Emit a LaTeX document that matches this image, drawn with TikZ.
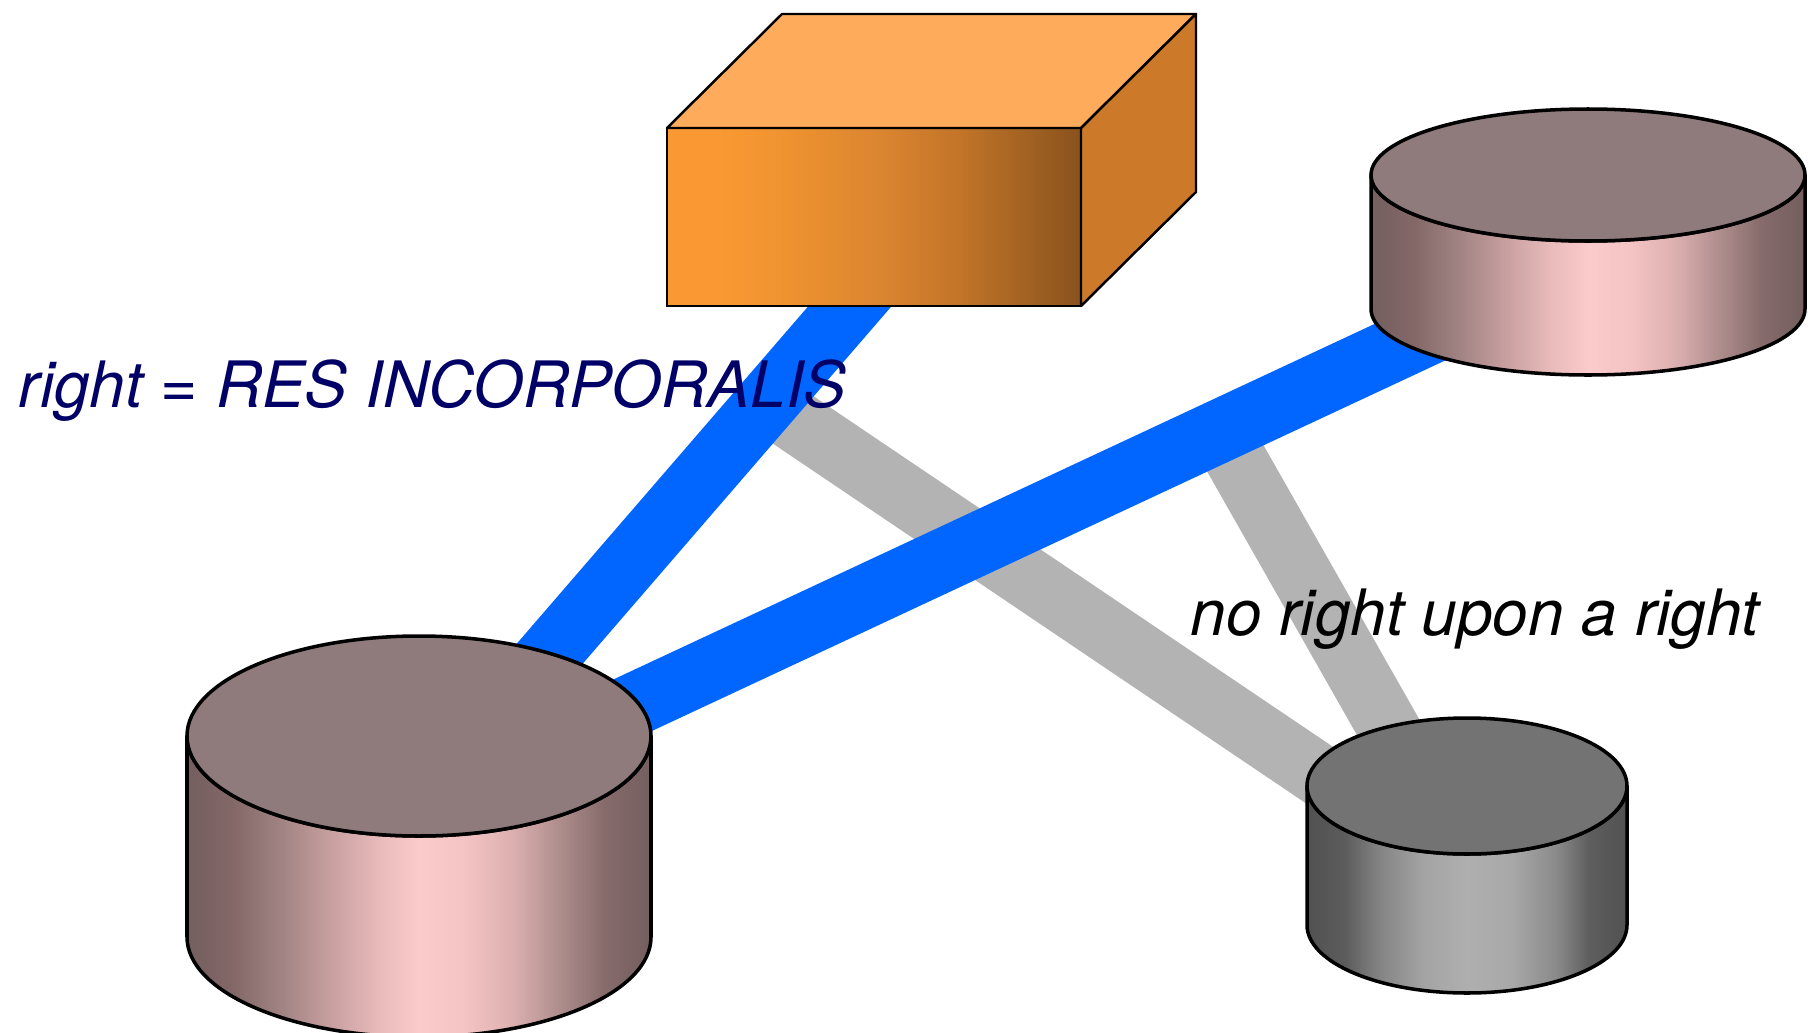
\documentclass[tikz,border=0pt]{standalone}
\usepackage{fontspec}
\setmainfont{TeX Gyre Heros}

\definecolor{bandblue}{HTML}{0066FF}
\definecolor{bandgray}{HTML}{B3B3B3}
\definecolor{navytext}{HTML}{000066}
\definecolor{pinktop}{HTML}{8F7B7B}
\definecolor{graytop}{HTML}{737373}
\definecolor{boxtop}{HTML}{FEAC5C}
\definecolor{boxside}{HTML}{CC7A29}

% body colours
\definecolor{pkA}{HTML}{745E5E}
\definecolor{pkB}{HTML}{846868}
\definecolor{pkC}{HTML}{A08282}
\definecolor{pkD}{HTML}{CBA2A2}
\definecolor{pkE}{HTML}{EBBCBC}
\definecolor{pkF}{HTML}{FBCACA}
\definecolor{pkG}{HTML}{F4C3C3}
\definecolor{pkH}{HTML}{DDB0B0}
\definecolor{pkI}{HTML}{B08E8E}
\definecolor{pkJ}{HTML}{866B6B}
\definecolor{gyA}{HTML}{515151}
\definecolor{gyB}{HTML}{5C5C5C}
\definecolor{gyC}{HTML}{828282}
\definecolor{gyD}{HTML}{A3A3A3}
\definecolor{gyE}{HTML}{AFAFAF}
\definecolor{gyF}{HTML}{A8A8A8}
\definecolor{gyG}{HTML}{8A8A8A}
\definecolor{gyH}{HTML}{5E5E5E}
\definecolor{orA}{HTML}{FA9933}
\definecolor{orB}{HTML}{EE9230}
\definecolor{orC}{HTML}{DC8630}
\definecolor{orD}{HTML}{C47529}
\definecolor{orE}{HTML}{A36322}
\definecolor{orF}{HTML}{8A521E}

\pgfdeclarehorizontalshading{pinkbody}{100bp}{color(0bp)=(pkA);
  color(25bp)=(pkA); color(30bp)=(pkB); color(35bp)=(pkC);
  color(41bp)=(pkD); color(46bp)=(pkE); color(50bp)=(pkF);
  color(55bp)=(pkG); color(60bp)=(pkH); color(65bp)=(pkI);
  color(70bp)=(pkJ); color(75bp)=(pkA); color(100bp)=(pkA)}
\pgfdeclarehorizontalshading{graybody}{100bp}{color(0bp)=(gyA);
  color(25bp)=(gyA); color(31bp)=(gyB); color(36bp)=(gyC);
  color(43bp)=(gyD); color(50bp)=(gyE); color(57bp)=(gyF);
  color(64bp)=(gyG); color(69bp)=(gyH); color(75bp)=(gyA);
  color(100bp)=(gyA)}
\pgfdeclarehorizontalshading{orangefront}{100bp}{color(0bp)=(orA);
  color(25bp)=(orA); color(31bp)=(orA); color(40bp)=(orB);
  color(50bp)=(orC); color(60bp)=(orD); color(68bp)=(orE);
  color(75bp)=(orF); color(100bp)=(orF)}

\tikzstyle{blueband}=[draw=bandblue, line width=0.63cm]
\tikzstyle{grayband}=[draw=bandgray, line width=0.62cm]
\tikzstyle{rim}=[draw=black, line width=1pt, line join=round]
\tikzstyle{front}=[shape=rectangle,
                   draw=black,
                   line width=0.7pt,
                   minimum width=4.14cm,
                   minimum height=1.78cm,
                   inner sep=0pt,
                   outer sep=0pt,
                   shading=orangefront]
\tikzstyle{caption}=[font=\fontsize{18.2}{22}\selectfont\itshape,
                     inner sep=0pt,
                     anchor=base west]

\begin{document}
\begin{tikzpicture}

\useasboundingbox (0,0) rectangle (18.09,10.32);

% connection points
\coordinate (c1) at (4.19,2.27);
\coordinate (c2) at (15.88,7.73);
\coordinate (c3) at (14.75,1.52);
\coordinate (resc) at (9.27,8.15);
\path (c1) -- coordinate[pos=0.685] (r1) (resc);
\path (c1) -- coordinate[pos=0.685] (r2) (c2);

% rights upon rights
\draw[grayband] (r1) -- (c3);
\draw[grayband] (r2) -- (c3);

% rights
\draw[blueband] (c1) -- (resc);
\draw[blueband] (c1) -- (c2);

% big cylinder
\shadedraw[shading=pinkbody, rim] (1.87,2.96) -- (1.87,0.95)
  arc[start angle=180, end angle=360, x radius=2.32cm, y radius=1cm] -- (6.51,2.96)
  arc[start angle=0, end angle=-180, x radius=2.32cm, y radius=1cm] -- cycle;
\filldraw[fill=pinktop, rim] (4.19,2.96) ellipse[x radius=2.32cm, y radius=1cm];

% upper cylinder
\shadedraw[shading=pinkbody, rim] (13.71,8.57) -- (13.71,7.23)
  arc[start angle=180, end angle=360, x radius=2.17cm, y radius=0.66cm] -- (18.05,8.57)
  arc[start angle=0, end angle=-180, x radius=2.17cm, y radius=0.66cm] -- cycle;
\filldraw[fill=pinktop, rim] (15.88,8.57) ellipse[x radius=2.17cm, y radius=0.66cm];

% small grey cylinder
\shadedraw[shading=graybody, rim] (13.07,2.46) -- (13.07,1.07)
  arc[start angle=180, end angle=360, x radius=1.6cm, y radius=0.68cm] -- (16.27,2.46)
  arc[start angle=0, end angle=-180, x radius=1.6cm, y radius=0.68cm] -- cycle;
\filldraw[fill=graytop, rim] (14.67,2.46) ellipse[x radius=1.6cm, y radius=0.68cm];

% box
\node[front, shade, draw=black] (res) at (8.74,8.15) {};
\filldraw[fill=boxtop, draw=black, line width=0.7pt, line join=round]
  (res.north west) -- ++(1.15,1.14) -- ++(4.14,0) -- (res.north east) -- cycle;
\filldraw[fill=boxside, draw=black, line width=0.7pt, line join=round]
  (res.north east) -- ++(1.15,1.14) -- ++(0,-1.78) -- (res.south east) -- cycle;

% labels
\node[caption, text=navytext] (t1) at (0.18,6.25) {right = RES INCORPORALIS};
\node[caption, text=black] (t2) at (11.90,3.97) {no right upon a right};

\end{tikzpicture}
\end{document}
